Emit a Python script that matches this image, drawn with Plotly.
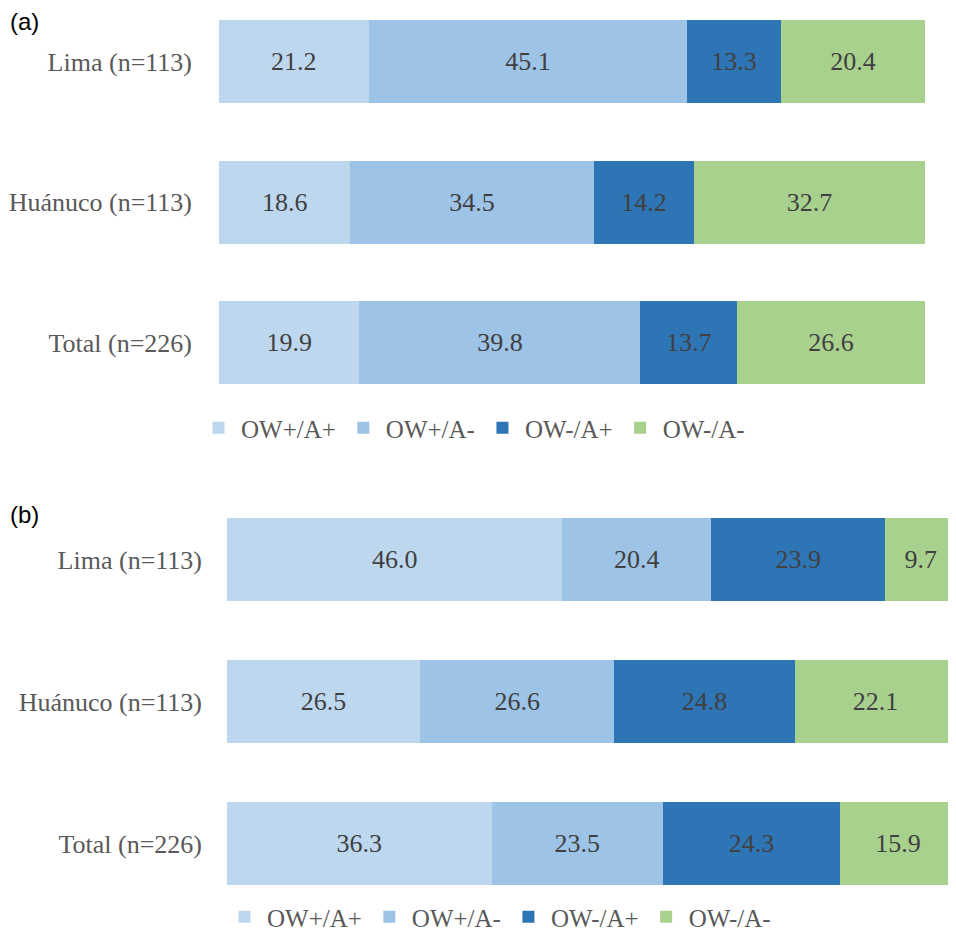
import plotly.graph_objects as go

categories = ["Lima (n=113)", "Huánuco (n=113)", "Total (n=226)"]
series_names = ["OW+/A+", "OW+/A-", "OW-/A+", "OW-/A-"]
colors = ["#BDD7EE", "#9DC3E6", "#2E75B6", "#A9D18E"]

panel_a = {
    "OW+/A+": [21.2, 18.6, 19.9],
    "OW+/A-": [45.1, 34.5, 39.8],
    "OW-/A+": [13.3, 14.2, 13.7],
    "OW-/A-": [20.4, 32.7, 26.6],
}
panel_b = {
    "OW+/A+": [46.0, 26.5, 36.3],
    "OW+/A-": [20.4, 26.6, 23.5],
    "OW-/A+": [23.9, 24.8, 24.3],
    "OW-/A-": [9.7, 22.1, 15.9],
}

W, H = 948, 932
SERIF = "Liberation Serif"

fig = go.Figure()

for data, xa, ya, lg in [(panel_a, "x", "y", "legend"), (panel_b, "x2", "y2", "legend2")]:
    for name, col in zip(series_names, colors):
        fig.add_trace(go.Bar(
            y=categories, x=data[name], name=name, orientation="h",
            marker=dict(color=col, line=dict(width=0)),
            text=data[name], texttemplate="%{x:.1f}",
            textposition="inside", insidetextanchor="middle", constraintext="none",
            textangle=0,
            textfont=dict(family=SERIF, size=26, color="#404040"),
            xaxis=xa, yaxis=ya, legend=lg, hoverinfo="skip",
        ))

def py(px):
    return 1 - px / H

tickfont = dict(family=SERIF, size=26, color="#595959")
legfont = dict(family=SERIF, size=25, color="#595959")

fig.update_layout(
    width=W, height=H, margin=dict(l=0, r=0, t=0, b=0),
    barmode="stack", bargap=0.41,
    plot_bgcolor="white", paper_bgcolor="white",
    font=dict(family=SERIF, size=20, color="#595959"),
    xaxis=dict(domain=[211 / W, 917 / W], range=[0, 100], visible=False, fixedrange=True,
               anchor="y"),
    yaxis=dict(domain=[py(382), py(7)], range=[2.333, -0.330], type="category",
               showgrid=False, showline=False, ticks="", ticklabelstandoff=26,
               tickfont=tickfont, anchor="x"),
    xaxis2=dict(domain=[219 / W, 1.0], range=[0, 100], visible=False, fixedrange=True,
                anchor="y2"),
    yaxis2=dict(domain=[py(887), py(502)], range=[2.356, -0.352], type="category",
                showgrid=False, showline=False, ticks="", ticklabelstandoff=24,
                tickfont=tickfont, anchor="x2"),
    legend=dict(orientation="h", x=188 / W, y=py(420), xanchor="left", yanchor="middle",
                font=legfont, traceorder="normal",
                itemwidth=35, tracegroupgap=0, bgcolor="rgba(0,0,0,0)"),
    legend2=dict(orientation="h", x=214 / W, y=py(910), xanchor="left", yanchor="middle",
                 font=legfont, traceorder="normal",
                 itemwidth=35, tracegroupgap=0, bgcolor="rgba(0,0,0,0)"),
    showlegend=True,
    annotations=[
        dict(text="(a)", x=0, y=py(14), xref="paper", yref="paper", showarrow=False,
             xanchor="left", yanchor="middle",
             font=dict(family="Liberation Sans", size=24, color="#000000")),
        dict(text="(b)", x=0, y=py(507), xref="paper", yref="paper", showarrow=False,
             xanchor="left", yanchor="middle",
             font=dict(family="Liberation Sans", size=24, color="#000000")),
    ],
)

fig.write_html("out.html")
